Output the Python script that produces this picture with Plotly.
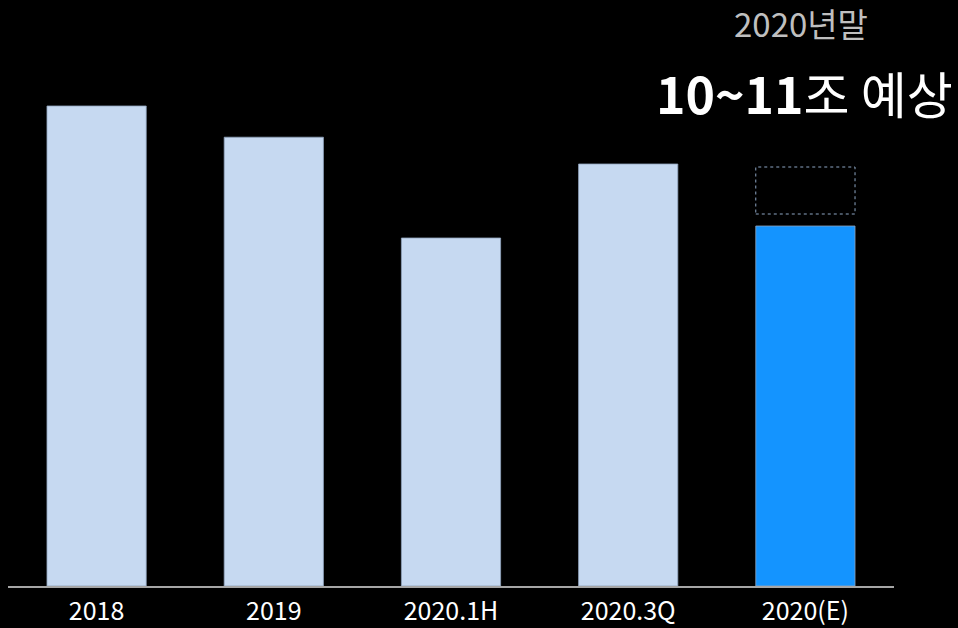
import plotly.graph_objects as go

categories = ["2018", "2019", "2020.1H", "2020.3Q", "2020(E)"]
values = [12.0, 11.22, 8.7, 10.55, 9.0]
bar_colors = ["#C6D9F1", "#C6D9F1", "#C6D9F1", "#C6D9F1", "#1494FF"]
estimate_low = 9.3
estimate_high = 10.475
title_line1 = "2020년말"
title_bold = "10~11"
title_rest = "조 예상"

bar_width = 0.56
FONT = "Noto Sans CJK KR"

fig = go.Figure()
fig.add_trace(go.Bar(
    x=categories, y=values, width=bar_width,
    marker=dict(color=bar_colors, line=dict(color="#8FA3BC", width=0.8)),
    showlegend=False, hoverinfo="skip",
))

est_idx = len(categories) - 1
fig.add_shape(
    type="rect", xref="x", yref="y",
    x0=est_idx - bar_width / 2, x1=est_idx + bar_width / 2,
    y0=estimate_low, y1=estimate_high,
    line=dict(color="#8EA6C4", width=1, dash="dot"),
    fillcolor="rgba(0,0,0,0)",
)

fig.add_annotation(
    text=title_line1, xref="paper", yref="paper",
    x=0.8945, y=0.977, xanchor="center", yanchor="middle", showarrow=False,
    font=dict(family=FONT, size=33, color="#BFBFBF"),
)
fig.add_annotation(
    text=f"<b>{title_bold}</b>{title_rest}", xref="paper", yref="paper",
    x=0.899, y=0.858, xanchor="center", yanchor="middle", showarrow=False,
    font=dict(family=FONT, size=50, color="#FFFFFF"),
)

fig.update_layout(
    width=958, height=628,
    paper_bgcolor="#000000", plot_bgcolor="#000000",
    margin=dict(l=8, r=64, t=10, b=42, autoexpand=False),
    bargap=0.44,
    xaxis=dict(
        showline=True, linecolor="#A6A6A6", linewidth=2,
        showgrid=False, ticks="", zeroline=False, automargin=False,
        ticklabelstandoff=2,
        tickfont=dict(family=FONT, size=25, color="#FFFFFF"),
    ),
    yaxis=dict(
        range=[0, 14.4], visible=False, showgrid=False, zeroline=False,
        automargin=False,
    ),
)

fig.write_html(
    "out.html",
    config={"displayModeBar": False},
    post_script="document.body.style.margin='0';document.body.style.background='#000';",
)
